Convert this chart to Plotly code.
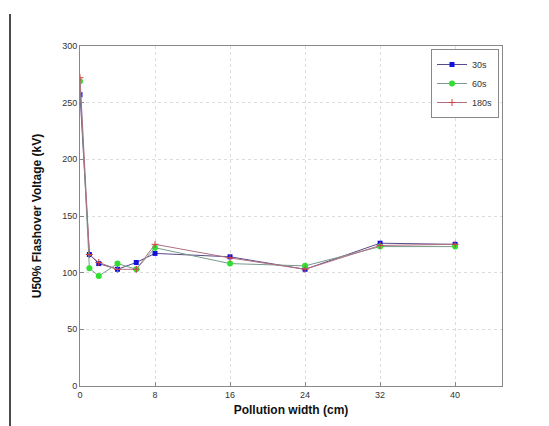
import plotly.graph_objects as go

widths = [0, 1, 2, 4, 6, 8, 16, 24, 32, 40]
v30 = [257, 116, 108, 103, 109, 117, 114, 103, 126, 125]
v60 = [269, 104, 97, 108, 103, 122, 108, 106, 123, 123]
v180 = [272, 116, 109, 103, 103, 125, 113, 103, 124, 125]
series_names = ["30s", "60s", "180s"]
x_ticks = [0, 8, 16, 24, 32, 40]
y_ticks = [0, 50, 100, 150, 200, 250, 300]

fig = go.Figure()
fig.add_trace(go.Scatter(x=widths, y=v30, name=series_names[0], mode="lines+markers",
                         line=dict(color="#5a4a8a", width=1),
                         marker=dict(symbol="square", size=5, color="#1010e0")))
fig.add_trace(go.Scatter(x=widths, y=v60, name=series_names[1], mode="lines+markers",
                         line=dict(color="#7a9a8a", width=1),
                         marker=dict(symbol="circle", size=6, color="#30e030")))
fig.add_trace(go.Scatter(x=widths, y=v180, name=series_names[2], mode="lines+markers",
                         line=dict(color="#b07080", width=1),
                         marker=dict(symbol="cross-thin", size=5, color="#d04040",
                                     line=dict(width=1, color="#d04040"))))

axis_common = dict(showline=True, linecolor="#888888", linewidth=1, mirror=True,
                   showgrid=True, gridcolor="#dddddd", griddash="dot", gridwidth=1,
                   ticks="inside", ticklen=4, tickcolor="#888888", zeroline=False,
                   tickfont=dict(family="Liberation Sans, Arial", size=9, color="#333333"))

fig.update_xaxes(range=[0, 45], tickvals=x_ticks, **axis_common,
                 title=dict(text="<b>Pollution width (cm)</b>", standoff=6,
                            font=dict(family="Liberation Sans, Arial", size=12, color="#111111")))
fig.update_yaxes(range=[0, 300], tickvals=y_ticks, **axis_common,
                 title=dict(text="<b>U50% Flashover Voltage (kV)</b>", standoff=17,
                            font=dict(family="Liberation Sans, Arial", size=12, color="#111111")))

fig.add_shape(type="line", xref="paper", yref="paper",
              x0=(10 - 80) / 422, x1=(10 - 80) / 422, y0=(386 - 14) / 340, y1=(386 - 440) / 340,
              line=dict(color="#111111", width=1.5))

fig.update_layout(
    width=549, height=426,
    margin=dict(l=72, r=55, t=38, b=48),
    paper_bgcolor="white", plot_bgcolor="white",
    showlegend=True,
    legend=dict(x=(499 - 80) / 422, y=(386 - 49) / 340, xanchor="right", yanchor="top",
                bgcolor="white", bordercolor="#888888", borderwidth=1,
                font=dict(family="Liberation Sans, Arial", size=9, color="#333333"),
                itemwidth=30, tracegroupgap=0),
)

fig.write_html("out.html")
